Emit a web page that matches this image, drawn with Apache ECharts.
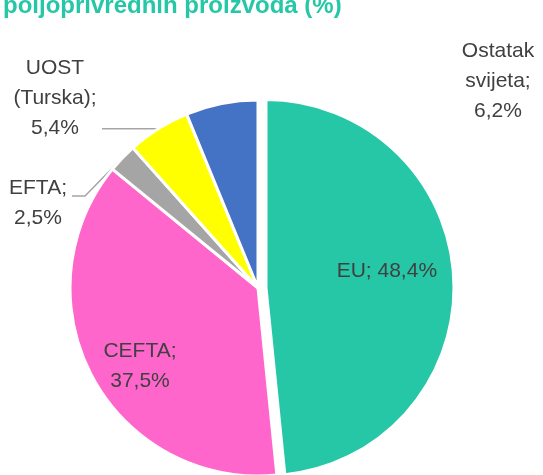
<!DOCTYPE html>
<html>
<head>
<meta charset="utf-8">
<script src="https://cdn.jsdelivr.net/npm/echarts@6/dist/echarts.min.js"></script>
<style>
  html, body { margin: 0; padding: 0; background: #fff; }
  #pie { width: 543px; height: 475px; }
</style>
</head>
<body>
<div id="pie"></div>
<script>
    // struktura izvoza po tržištima
    var categories = ['EU', 'CEFTA', 'EFTA', 'UOST\n(Turska)', 'Ostatak\nsvijeta'];
    var shares = [48.4, 37.5, 2.5, 5.4, 6.2];
    var colors = ['#25C7A7', '#FF66CC', '#A5A5A5', '#FFFF00', '#4472C4'];

    // gdje stoje natpisi (sredina teksta); EU je izvučen pa ga labelLayout ne pomjera
    var labelSpots = [null, [140, 366], [38, 203], [55, 98], [498, 81]];
    // prelomne tačke linija do natpisa (samo EFTA i UOST)
    var lineKnees = {2: [[85, 196], [72, 196]], 3: [[102, null]]};

    var chart = echarts.init(document.getElementById('pie'));

    var pieData = categories.map(function (name, i) {
        var inside = i < 2;
        return {
            name: name,
            value: shares[i],
            selected: i === 0,
            itemStyle: { color: colors[i] },
            label: { position: inside ? 'inside' : 'outside' },
            labelLine: { show: i === 2 || i === 3 }
        };
    });

    // EU natpis u jednom redu, malo desno (padding) i gore (prazan drugi red)
    pieData[0].label.formatter = function (p) {
        return p.name + '; ' + String(p.value).replace('.', ',') + '%\n ';
    };
    pieData[0].label.padding = [0, 0, 0, 48];
    pieData[0].label.lineHeight = 24;

    var option = {
        animation: false,
        title: {
            text: 'poljoprivrednih proizvoda (%)',
            left: -2,
            top: -11,
            textStyle: {
                fontFamily: 'Liberation Sans',
                fontWeight: 'bold',
                fontSize: 24,
                color: '#25C7A7'
            }
        },
        series: [
            {
                type: 'pie',
                center: [258, 288],
                radius: 188,
                startAngle: 90,
                clockwise: true,
                selectedMode: 'single',
                selectedOffset: 8,
                itemStyle: {
                    borderColor: '#fff',
                    borderWidth: 3
                },
                label: {
                    formatter: function (p) {
                        return p.name + ';\n' + String(p.value).replace('.', ',') + '%';
                    },
                    fontFamily: 'Liberation Sans',
                    fontSize: 21,
                    lineHeight: 30,
                    color: '#404040',
                    align: 'center',
                    overflow: 'none'
                },
                labelLine: {
                    length: 15,
                    length2: 15,
                    lineStyle: { color: '#A5A5A5', width: 1.5 }
                },
                emphasis: { disabled: true },
                labelLayout: function (params) {
                    var s = labelSpots[params.dataIndex];
                    if (!s) {
                        return {};
                    }
                    var out = {
                        x: s[0],
                        y: s[1],
                        align: 'center',
                        verticalAlign: 'middle'
                    };
                    var knees = lineKnees[params.dataIndex];
                    if (knees && params.labelLinePoints) {
                        var p0 = params.labelLinePoints[0];
                        var pts = [p0];
                        knees.forEach(function (k) {
                            pts.push([k[0], k[1] == null ? p0[1] : k[1]]);
                        });
                        out.labelLinePoints = pts;
                    }
                    return out;
                },
                data: pieData
            }
        ]
    };

    chart.setOption(option);
</script>
</body>
</html>
